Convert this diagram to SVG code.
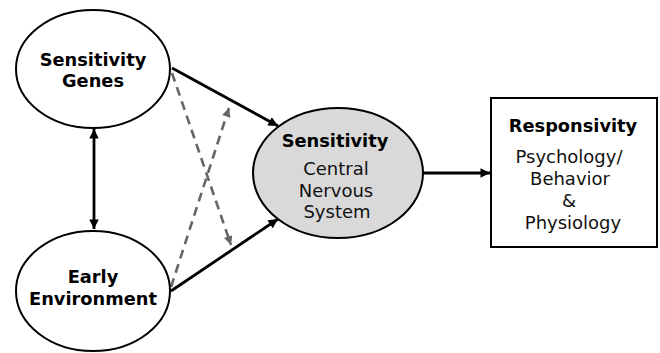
<svg xmlns="http://www.w3.org/2000/svg" width="660" height="353" viewBox="0 0 660 353">
<style>
.node{fill:#fff;stroke:#000;stroke-width:2}
.b{font-family:"DejaVu Sans",Verdana,sans-serif;font-weight:bold;font-size:17.8px;text-anchor:middle;fill:#000}
.r{font-family:"DejaVu Sans",Verdana,sans-serif;font-size:18px;text-anchor:middle;fill:#111}
.solid{stroke:#000;stroke-width:2.8;fill:none}
.dash{stroke:#666;stroke-width:2.6;fill:none;stroke-dasharray:9 6}
</style>
<defs>
<marker id="ah" viewBox="0 0 10 10" refX="10" refY="5" markerWidth="4" markerHeight="3.4" markerUnits="strokeWidth" orient="auto-start-reverse">
<path d="M0,0 L10,5 L0,10 z" fill="#000"/>
</marker>
<marker id="ahg" viewBox="0 0 10 10" refX="10" refY="5" markerWidth="4" markerHeight="3.4" markerUnits="strokeWidth" orient="auto">
<path d="M0,0 L10,5 L0,10 z" fill="#666"/>
</marker>
</defs>
<g id="connectors">
<line class="solid" x1="94" y1="129" x2="94" y2="229" marker-start="url(#ah)" marker-end="url(#ah)"/>
<line class="solid" x1="172" y1="68" x2="278" y2="126" marker-end="url(#ah)"/>
<line class="solid" x1="171" y1="291" x2="278" y2="219" marker-end="url(#ah)"/>
<line class="solid" x1="423" y1="173" x2="490" y2="173" marker-end="url(#ah)"/>
<line class="dash" x1="172" y1="73" x2="231" y2="245" marker-end="url(#ahg)"/>
<line class="dash" x1="171" y1="287" x2="229" y2="108" marker-end="url(#ahg)"/>
</g>
<g id="genes">
<ellipse class="node" cx="93" cy="69" rx="77" ry="59"/>
<text class="b" x="93" y="66">Sensitivity</text>
<text class="b" x="93" y="87">Genes</text>
</g>
<g id="environment">
<ellipse class="node" cx="93" cy="291" rx="77" ry="60"/>
<text class="b" x="93" y="283">Early</text>
<text class="b" x="93" y="305">Environment</text>
</g>
<g id="sensitivity">
<ellipse class="node" cx="338" cy="173" rx="85" ry="65" style="fill:#d9d9d9"/>
<text class="b" x="335" y="147">Sensitivity</text>
<text class="r" x="336" y="175">Central</text>
<text class="r" x="336" y="197">Nervous</text>
<text class="r" x="337" y="218">System</text>
</g>
<g id="responsivity">
<rect class="node" x="491" y="98" width="166" height="149"/>
<text class="b" x="573" y="132">Responsivity</text>
<text class="r" x="569" y="163">Psychology/</text>
<text class="r" x="570" y="185">Behavior</text>
<text class="r" x="569" y="207">&amp;</text>
<text class="r" x="573" y="229">Physiology</text>
</g>
</svg>
